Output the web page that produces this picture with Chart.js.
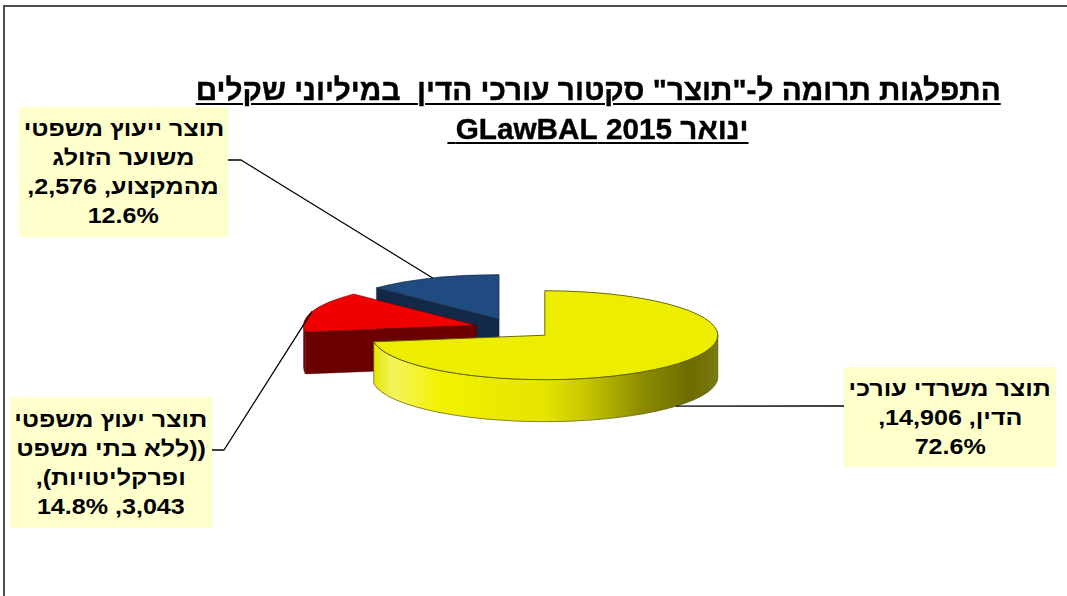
<!DOCTYPE html>
<html lang="he">
<head>
<meta charset="utf-8">
<title>GLawBAL 2015</title>
<script src="https://cdn.jsdelivr.net/npm/chart.js@4.4.1/dist/chart.umd.min.js"></script>
<style>
  html, body { margin: 0; padding: 0; background: #fff; overflow: hidden; }
  #stage { position: relative; width: 1067px; height: 596px; overflow: hidden; background: #fff; }
  #frame { position: absolute; left: 3px; top: 5px; width: 1200px; height: 800px;
           border-top: 2px solid #4d4d4d; border-left: 2px solid #4d4d4d; }
  #chart { position: absolute; left: 0; top: 0; }
  .tline { position: absolute; left: 0; width: 1196px; text-align: center; direction: rtl;
           white-space: pre; font: bold 30px "Liberation Sans", Arial, sans-serif; line-height: 39px; color: #000;
           -webkit-text-stroke: 0.4px #000; }
  .tline span { display: inline-block; text-decoration: underline; text-decoration-thickness: 2px;
                text-underline-offset: 3px; transform-origin: 50% 50%; }
  .lbl { position: absolute; background: #FFFFCC; direction: rtl; text-align: center; color: #000;
         font: bold 22px "Liberation Sans", Arial, sans-serif; display: flex; flex-direction: column;
         justify-content: center; align-items: center; box-sizing: border-box; }
  .lbl span { display: block; white-space: pre; line-height: 29px; transform: scaleX(1.14); transform-origin: 50% 50%; }
</style>
</head>
<body>
<div id="stage">
  <div id="frame"></div>
  <canvas id="chart" width="1067" height="596"></canvas>
  <div class="tline" id="t1" style="top:70px"><span></span></div>
  <div class="tline" id="t2" style="top:109px"><span></span></div>
</div>
<script>
// ---- data ----
const titleLines = ['התפלגות תרומה ל-"תוצר" סקטור עורכי הדין  במיליוני שקלים', 'ינואר 2015 GLawBAL '];
const categories = [
  'תוצר משרדי עורכי הדין',
  'תוצר יעוץ משפטי ((ללא בתי משפט ופרקליטויות)',
  'תוצר ייעוץ משפטי משוער הזולג מהמקצוע'
];
const values = [14906, 3043, 2576];

// ---- look ----
const topColors  = ['#EDED00', '#F00000', '#1F4B80'];
const faceColors = ['#D2D200', '#6C0000', '#13294A'];
const wallStops = [
  [[0, '#E4E400'], [0.06, '#F4F45C'], [0.2, '#F2F200'], [0.5, '#E4E400'], [0.62, '#C6C600'], [0.78, '#8C8C00'], [0.92, '#6C6C00'], [1, '#7A7A12']],
  [[0, '#780000'], [1, '#5C0000']],
  [[0, '#14304F'], [1, '#0E2038']]
];
const edgeColors = ['rgba(90,90,0,0.9)', 'rgba(60,0,0,0.45)', 'rgba(10,20,40,0.45)'];
const TILT = 0.257;     // vertical squash of the disc
const EXPLODE = 40;     // slice pull-out distance
const DEPTH = 42;       // disc thickness in px

// label boxes and where each leader line meets its box
const boxes = [
  { left: 844, top: 367, width: 212, height: 100 },
  { left: 10,  top: 397, width: 202, height: 131 },
  { left: 19,  top: 107, width: 209, height: 130 }
];
const leaderEnds = [
  { x: 844, y: 406, elbowX: null },
  { x: 212, y: 450, elbowX: 224 },
  { x: 228, y: 160, elbowX: 241 }
];
const lineBreaks = [[3, 2, 1], [3, 3, 1, 2], [3, 2, 2, 1]];

// ---- title ----
titleLines.forEach((txt, i) => {
  document.querySelector('#t' + (i + 1) + ' span').textContent = txt;
});
// narrow the title face
(function () {
  const s1 = document.querySelector('#t1 span');
  const s2 = document.querySelector('#t2 span');
  const f = 805 / s1.getBoundingClientRect().width;
  s1.style.transform = 'scaleX(' + f + ')';
  s2.style.transform = 'scaleX(' + f + ')';
})();

// ---- labels ----
const total = values.reduce((a, b) => a + b, 0);
const fmt = v => v.toLocaleString('en-US');
categories.forEach((cat, i) => {
  const words = cat.split(' ');
  words[words.length - 1] += ',';
  const tokens = words.concat([fmt(values[i]) + ',', (values[i] / total * 100).toFixed(1) + '%']);
  const box = document.createElement('div');
  box.className = 'lbl';
  const b = boxes[i];
  box.style.left = b.left + 'px';
  box.style.top = b.top + 'px';
  box.style.width = b.width + 'px';
  box.style.height = b.height + 'px';
  let k = 0;
  lineBreaks[i].forEach(n => {
    const line = document.createElement('span');
    line.textContent = tokens.slice(k, k + n).join(' ');
    k += n;
    box.appendChild(line);
  });
  document.getElementById('stage').appendChild(box);
});

// ---- 3D pie renderer built on the pie controller's arc geometry ----
const pie3d = {
  id: 'pie3d',
  beforeDatasetsDraw(chart) {
    const ctx = chart.ctx;
    const meta = chart.getDatasetMeta(0);
    const slices = meta.data.map((arc, i) => {
      const p = arc.getProps(['x', 'y', 'startAngle', 'endAngle', 'outerRadius'], true);
      const mid = (p.startAngle + p.endAngle) / 2;
      return {
        i, s: p.startAngle, e: p.endAngle, R: p.outerRadius, mid,
        cx: p.x + Math.cos(mid) * EXPLODE,
        cy: p.y + Math.sin(mid) * EXPLODE * TILT
      };
    });
    const pt = (sl, a, dy) => [sl.cx + sl.R * Math.cos(a), sl.cy + sl.R * TILT * Math.sin(a) + (dy || 0)];

    const order = slices.slice().sort((a, b) => a.cy - b.cy);
    ctx.save();
    ctx.lineJoin = 'round';
    order.forEach(sl => {
      const i = sl.i;
      // radial cut faces that turn toward the viewer
      const faces = [];
      if (Math.cos(sl.s) < -1e-6) faces.push(sl.s);
      if (Math.cos(sl.e) > 1e-6) faces.push(sl.e);
      faces.forEach(a => {
        const [x, y] = pt(sl, a);
        ctx.beginPath();
        ctx.moveTo(sl.cx, sl.cy);
        ctx.lineTo(x, y);
        ctx.lineTo(x, y + DEPTH);
        ctx.lineTo(sl.cx, sl.cy + DEPTH);
        ctx.closePath();
        ctx.fillStyle = faceColors[i];
        ctx.fill();
        ctx.strokeStyle = edgeColors[i];
        ctx.lineWidth = 0.8;
        ctx.stroke();
      });
      // outer curved wall, front half only
      const a0 = Math.max(sl.s, 0), a1 = Math.min(sl.e, Math.PI);
      if (a1 > a0) {
        const g = ctx.createLinearGradient(sl.cx - sl.R, 0, sl.cx + sl.R, 0);
        wallStops[i].forEach(([o, c]) => g.addColorStop(o, c));
        ctx.beginPath();
        ctx.ellipse(sl.cx, sl.cy, sl.R, sl.R * TILT, 0, a0, a1, false);
        ctx.ellipse(sl.cx, sl.cy + DEPTH, sl.R, sl.R * TILT, 0, a1, a0, true);
        ctx.closePath();
        ctx.fillStyle = g;
        ctx.fill();
        ctx.strokeStyle = edgeColors[i];
        ctx.lineWidth = 0.8;
        ctx.stroke();
      }
      // top face
      ctx.beginPath();
      ctx.moveTo(sl.cx, sl.cy);
      ctx.ellipse(sl.cx, sl.cy, sl.R, sl.R * TILT, 0, sl.s, sl.e, false);
      ctx.closePath();
      ctx.fillStyle = topColors[i];
      ctx.fill();
      ctx.strokeStyle = edgeColors[i];
      ctx.lineWidth = 1;
      ctx.stroke();
    });

    // leader lines from each slice to its label box
    ctx.strokeStyle = '#000';
    ctx.lineWidth = 1.3;
    slices.forEach(sl => {
      const front = Math.sin(sl.mid) > 0;
      const [ax, ay] = pt(sl, sl.mid, front ? DEPTH : 0);
      const L = leaderEnds[sl.i];
      ctx.beginPath();
      ctx.moveTo(ax, ay);
      if (L.elbowX !== null) ctx.lineTo(L.elbowX, L.y);
      ctx.lineTo(L.x, L.y);
      ctx.stroke();
    });
    ctx.restore();
    return false;
  }
};

new Chart(document.getElementById('chart'), {
  type: 'pie',
  data: {
    labels: categories,
    datasets: [{ data: values, backgroundColor: topColors, borderWidth: 0 }]
  },
  options: {
    responsive: false,
    animation: false,
    events: [],
    radius: 173,
    layout: { padding: { left: 0, right: 38, top: 61, bottom: 0 } },
    plugins: { legend: { display: false }, tooltip: { enabled: false }, title: { display: false } }
  },
  plugins: [pie3d]
});
</script>
</body>
</html>
